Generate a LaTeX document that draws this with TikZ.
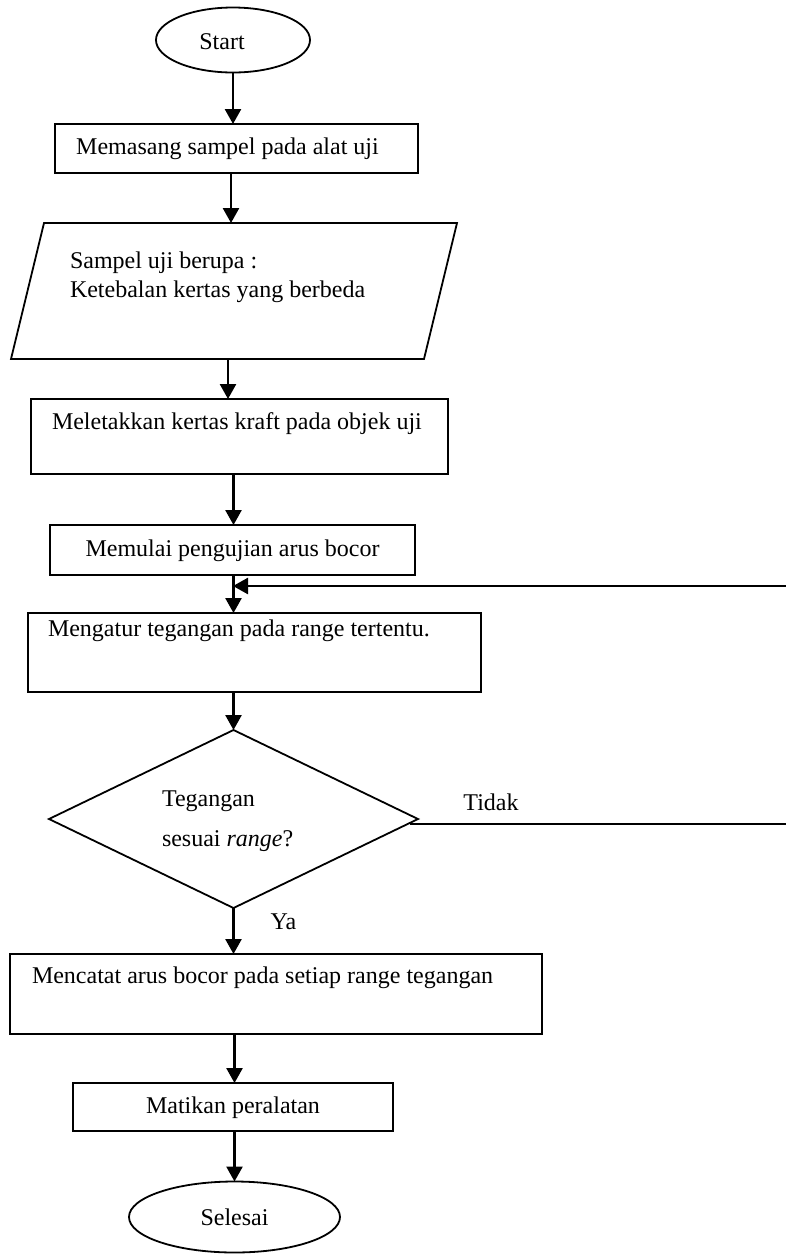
\documentclass[tikz,border=0pt]{standalone}
\usepackage{fontspec}
\setmainfont{Liberation Serif}
\usetikzlibrary{shapes.geometric,arrows.meta}
\begin{document}
\begin{tikzpicture}[x=1pt,y=-1pt,
  font=\fontsize{24}{29}\selectfont,
  shapebox/.style={draw,line width=1.8pt,inner sep=0pt,outer sep=0pt},
  procbox/.style={shapebox,rectangle},
  oval/.style={shapebox,ellipse},
  txt/.style={inner sep=0pt,outer sep=0pt},
  arr/.style={line width=2.6pt,-{Triangle[length=15pt,width=16pt]}},
  plain/.style={line width=2.6pt}
]
\clip (0,0) rectangle (786,1254);
\useasboundingbox (0,0) rectangle (786,1254);

% Start
\node[oval,minimum width=154pt,minimum height=65pt] (start) at (233,40) {};
\node[txt] (starttxt) at (222,42) {Start};

% Box 1
\node[procbox,minimum width=363pt,minimum height=49pt] (b1) at (236.5,148.5) {};
\node[txt] (b1txt) at (227.5,149) {Memasang sampel pada alat uji};

% Parallelogram
\draw[line width=1.8pt] (44,223) -- (457,223) -- (424,359) -- (11,359) -- cycle;
\coordinate (pt) at (231,223);
\coordinate (pb) at (228,359);
\node[txt,anchor=west,align=left] (ptxt) at (70,277) {Sampel uji berupa :\\Ketebalan kertas yang berbeda};

% Box 3
\node[procbox,minimum width=417pt,minimum height=75pt] (b3) at (239.5,436.5) {};
\node[txt,anchor=west] (b3txt) at (52,424) {Meletakkan kertas kraft pada objek uji};

% Box 4
\node[procbox,minimum width=365pt,minimum height=50pt] (b4) at (232.5,550) {};
\node[txt] (b4txt) at (232.5,551) {Memulai pengujian arus bocor};

% Box 5
\node[procbox,minimum width=453pt,minimum height=79pt] (b5) at (254.5,652.5) {};
\node[txt,anchor=west] (b5txt) at (48,631) {Mengatur tegangan pada range tertentu.};

% Decision
\node[shapebox,diamond,minimum width=369pt,minimum height=178pt] (dia) at (233.5,819) {};
\node[txt,anchor=west] (d1) at (162,801) {Tegangan};
\node[txt,anchor=west] (d2) at (162,841) {sesuai \textit{range}?};
\node[txt] (tidak) at (491,802) {Tidak};
\node[txt] (ya) at (283.5,922) {Ya};

% Box 6
\node[procbox,minimum width=532pt,minimum height=80pt] (b6) at (276,994) {};
\node[txt,anchor=west] (b6txt) at (32,978) {Mencatat arus bocor pada setiap range tegangan};

% Box 7
\node[procbox,minimum width=320pt,minimum height=48pt] (b7) at (233,1107) {};
\node[txt] (b7txt) at (233,1108) {Matikan peralatan};

% End
\node[oval,minimum width=211pt,minimum height=71pt] (stop) at (234.5,1217) {Selesai};

% Connectors
\draw[arr] (start.south) -- (start.south |- b1.north);
\draw[arr] (b1.south -| pt) -- (pt);
\draw[arr] (pb) -- (pb |- b3.north);
\draw[arr] (b3.south -| dia.north) -- (b4.north -| dia.north);
\draw[arr] (b4.south -| dia.north) -- (b5.north -| dia.north);
\draw[arr] (b5.south -| dia.north) -- (dia.north);
\draw[arr] (dia.south) -- (dia.south |- b6.north);
\draw[arr] (b6.south -| stop.north) -- (b7.north -| stop.north);
\draw[arr] (b7.south -| stop.north) -- (stop.north);

% Feedback loop (runs off the right edge)
\coordinate (tstart) at ([xshift=-8pt,yshift=-5pt]dia.east);
\coordinate (join) at (233,586);
\draw[plain,-{Triangle[length=15pt,width=16pt]}] (tstart) -- (800,824) -- (800,586) -- (join);
\end{tikzpicture}
\end{document}
